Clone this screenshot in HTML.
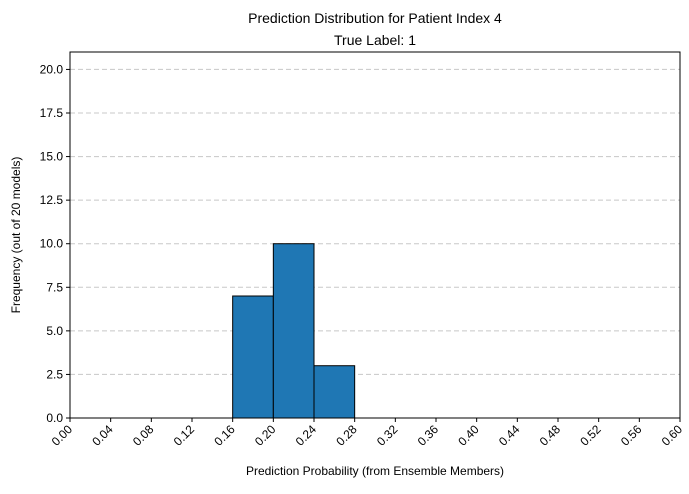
<!DOCTYPE html>
<html><head><meta charset="utf-8"><style>
body{margin:0;background:#fff;font-family:"Liberation Sans",sans-serif;}
svg text{font-family:"Liberation Sans",sans-serif;fill:#000;}
</style></head><body>
<svg id="chart" width="689" height="489">
<text x="375" y="23" text-anchor="middle" font-size="14">Prediction Distribution for Patient Index 4</text>
<text x="375" y="45" text-anchor="middle" font-size="14">True Label: 1</text>
<g id="grid"></g><g id="bars"></g><g id="axes"></g>
<text x="375" y="475" text-anchor="middle" font-size="12">Prediction Probability (from Ensemble Members)</text>
<text transform="translate(20,235) rotate(-90)" text-anchor="middle" font-size="12">Frequency (out of 20 models)</text>
</svg>
<script>
const binStarts=[0.16,0.20,0.24];
const counts=[7,10,3];
const binWidth=0.04;
const xTicks=[0,0.04,0.08,0.12,0.16,0.20,0.24,0.28,0.32,0.36,0.40,0.44,0.48,0.52,0.56,0.60];
const yTicks=[0,2.5,5,7.5,10,12.5,15,17.5,20];
const L=70,R=680,T=52,B=418,xMax=0.6,yMax=21;
const sx=v=>L+v/xMax*(R-L), sy=v=>B-v/yMax*(B-T);
const NS="http://www.w3.org/2000/svg";
function mk(t,a,p){const e=document.createElementNS(NS,t);for(const k in a)e.setAttribute(k,a[k]);p.appendChild(e);return e;}
const grid=document.getElementById('grid'),bars=document.getElementById('bars'),axes=document.getElementById('axes');
yTicks.forEach(v=>{
 const g=mk('line',{x1:L,x2:R,y1:sy(v),y2:sy(v),stroke:'#c8c8c8','stroke-dasharray':'5,3','stroke-width':1},grid);
 
 
 const tk=mk('line',{x1:L-4,x2:L,y1:sy(v),y2:sy(v),stroke:'#000'},axes);
 
 
 const t=mk('text',{x:L-7,y:sy(v)+4,'text-anchor':'end','font-size':12},axes);
 t.textContent=v.toFixed(1);
 
 
});
binStarts.forEach((s,i)=>{
 const r=mk('rect',{x:sx(s),y:sy(counts[i]),width:sx(s+binWidth)-sx(s),height:sy(0)-sy(counts[i]),fill:'#1f77b4',stroke:'#000','stroke-width':1},bars);
 
 
});
xTicks.forEach(v=>{
 const x=sx(v);
 const tk=mk('line',{x1:x,x2:x,y1:B,y2:B+4,stroke:'#000'},axes);
 
 
 const t=mk('text',{x:x+3,y:B+12,'text-anchor':'end','font-size':12,transform:`rotate(-45 ${x+3} ${B+12})`},axes);
 t.textContent=v.toFixed(2);
 
 
});
const frame=mk('rect',{x:L,y:T,width:R-L,height:B-T,fill:'none',stroke:'#000','stroke-width':1},axes);


</script>
</body></html>
